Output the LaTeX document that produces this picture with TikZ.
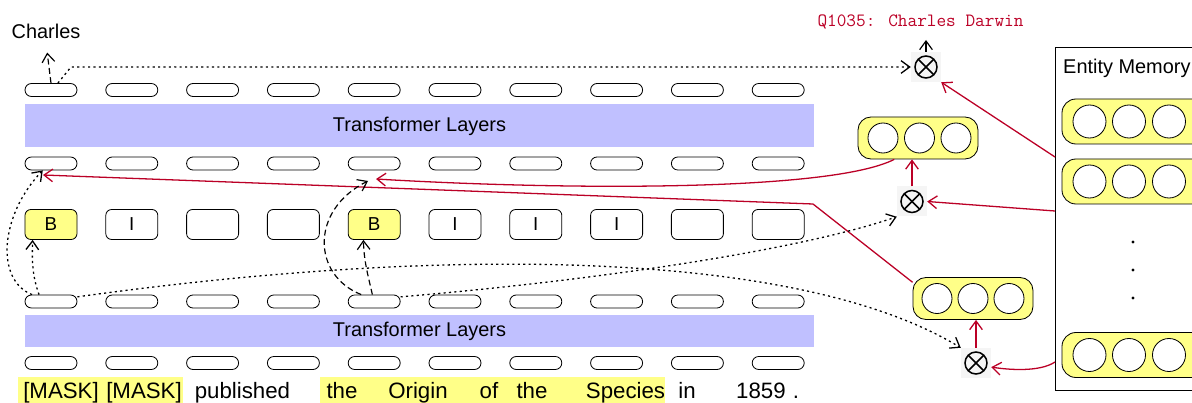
\documentclass[tikz,border=0pt]{standalone}
\usepackage{fontspec}
\setmainfont{Liberation Sans}
\usetikzlibrary{arrows.meta,positioning}
\definecolor{layerblue}{RGB}{192,192,255}
\definecolor{hlyellow}{RGB}{255,255,136}
\definecolor{linkred}{RGB}{187,0,38}
\tikzset
{
    tok/.style     = {draw, rounded corners=5.5pt, minimum width=1.56cm, minimum height=0.39cm, inner sep=0pt, line width=0.7pt},
    tag/.style     = {draw, rounded corners=5pt, minimum width=1.56cm, minimum height=0.9cm, inner sep=0pt, line width=0.7pt, font=\fontsize{16}{18}\selectfont},
    btag/.style    = {tag, fill=hlyellow},
    layer/.style   = {fill=layerblue, minimum width=23.67cm, inner sep=0pt, font=\fontsize{17}{20}\selectfont},
    word/.style    = {anchor=base, inner sep=0pt, font=\fontsize{19}{22}\selectfont},
    vec/.style     = {draw, fill=hlyellow, rounded corners=0.39cm, minimum width=3.6cm, minimum height=1.26cm, line width=0.7pt},
    cell/.style    = {circle, draw, fill=white, minimum size=0.9cm, inner sep=0pt, line width=0.7pt},
    mem/.style     = {draw, fill=hlyellow, rounded corners=0.42cm, minimum width=4.44cm, minimum height=1.35cm, line width=0.7pt},
    memcell/.style = {circle, draw, fill=white, minimum size=0.99cm, inner sep=0pt, line width=0.7pt},
    prod/.style    = {fill=black!4, minimum size=0.9cm, inner sep=0pt,
                      path picture={
                          \draw[line width=1.3pt] (path picture bounding box.center) circle (0.33cm);
                          \draw[line width=1.3pt] ([shift={(45:0.32cm)}]path picture bounding box.center) -- ([shift={(225:0.32cm)}]path picture bounding box.center);
                          \draw[line width=1.3pt] ([shift={(135:0.32cm)}]path picture bounding box.center) -- ([shift={(-45:0.32cm)}]path picture bounding box.center);
                      }},
    link/.style    = {->, draw=linkred, line width=1.1pt},
    hop/.style     = {->, line width=1.1pt, dash pattern=on 1.8pt off 2.8pt},
    jump/.style    = {->, line width=1pt, dash pattern=on 5pt off 3pt}
}

\begin{document}
\begin{tikzpicture}[x=0.03cm, y=-0.03cm, >={Straight Barb[length=2.6mm,width=3.8mm]}]
    \clip (0,0) rectangle (1192,403);

    \fill [hlyellow] (18,377) rectangle (183,403);
    \fill [hlyellow] (320,377) rectangle (665,403);

    \foreach \i in {1,...,10}
    {
        \node [tok] (t1-\i) at ({51+80.8*(\i-1)}, 90) {};
        \node [tok] (t2-\i) at ({51+80.8*(\i-1)}, 163.5) {};
        \node [tok] (t3-\i) at ({51+80.8*(\i-1)}, 301.5) {};
        \node [tok] (t4-\i) at ({51+80.8*(\i-1)}, 363) {};
    }
    \foreach \i/\s/\t in {1/btag/B, 2/tag/I, 3/tag/{}, 4/tag/{}, 5/btag/B, 6/tag/I, 7/tag/I, 8/tag/I, 9/tag/{}, 10/tag/{}}
        \node [\s] (g\i) at ({51+80.8*(\i-1)}, 224.5) {\t};

    \node [layer, minimum height=1.29cm] (upper) at (419.5,126) {Transformer Layers};
    \node [layer, minimum height=0.98cm] (lower) at (419.5,331) {Transformer Layers};

    \foreach \x/\w [count=\i] in {61/{[MASK]}, 144/{[MASK]}, 242.5/published, 342/the, 418/Origin, 489/of, 532/the, 625.5/Species, 687/in, 761/1859, 796/.}
        \node [word] (w\i) at (\x,399) {\w};

    \node [font=\fontsize{17}{20}\selectfont] (charles) at (46,31.5) {Charles};
    \node [anchor=base, text=linkred, font=\ttfamily\fontsize{16}{18}\selectfont] (answer) at (920.5,27) {Q1035: Charles Darwin};

    \node [draw, line width=0.7pt, minimum width=5.85cm, minimum height=10.29cm, inner sep=0pt] (memory) at (1152.5,218.5) {};
    \node [anchor=base west, inner sep=0pt, font=\fontsize{17}{20}\selectfont] (memlabel) at (1063,74) {Entity Memory};
    \foreach \i/\y in {1/121.5, 2/181.5, 3/355}
    {
        \node [mem] (mem\i) at (1136,\y) {};
        \foreach \j/\x in {1/1089.5, 2/1129, 3/1169}
            \node [memcell] (mem\i-\j) at (\x,\y) {};
    }
    \foreach \y in {242,270,298}
        \fill (1133,\y) circle (1.4pt);

    \node [vec] (vtop) at (918,138) {};
    \foreach \j/\x in {1/883, 2/919.5, 3/956}
        \node [cell] (vtop-\j) at (\x,138) {};
    \node [vec] (vbot) at (973,298.5) {};
    \foreach \j/\x in {1/937, 2/973, 3/1009}
        \node [cell] (vbot-\j) at (\x,298.5) {};

    \node [prod] (ox1) at (926,67) {};
    \node [prod] (ox2) at (912,201.5) {};
    \node [prod] (ox3) at (976,363) {};

    \coordinate (up1) at (926,40);
    \coordinate (m1) at (1055,157);
    \coordinate (m2) at (1055,211);
    \coordinate (m3) at (1055,362);
    \coordinate (bend) at (813,204);
    \coordinate (in1r) at (43,175);
    \coordinate (in5r) at (376,179);
    \coordinate (in5d) at (368,181);

    \draw [jump, shorten >=0.29cm] (t1-1.north) -- (charles.south);
    \draw [hop] (t1-1.45) -- ++(13,-16) -- (ox1.west);
    \draw [->, line width=1pt] (ox1.north) -- (up1);

    \draw [link] (m1) -- (ox1.south east);
    \draw [link] (m2) -- (ox2.east);
    \draw [link] (m3) .. controls (1040,372) and (1010,370) .. (ox3.-15);
    \draw [link] (ox2.north) -- (ox2.north |- vtop.south);
    \draw [link] (ox3.north) -- (ox3.north |- vbot.south);
    \draw [link] (vtop.222) .. controls (830,192) and (560,190) .. (in5r);
    \draw [link] (vbot.165) -- (bend) -- (in1r);

    \draw [hop] (t3-1.150) .. controls (32,275) and (32,260) .. (g1.220);
    \draw [hop] (t3-1.160) .. controls (-5,280) and (0,215) .. (t2-1.220);
    \draw [jump] (t3-5.105) .. controls (368,275) and (364,262) .. (g5.235);
    \draw [jump] (t3-5.152) .. controls (312,275) and (310,210) .. (in5d);
    \draw [hop] (t3-1.10) .. controls (450,245) and (800,250) .. (ox3.north west);
    \draw [hop] (t3-5.10) .. controls (600,280) and (800,250) .. (ox2.south west);
\end{tikzpicture}
\end{document}
